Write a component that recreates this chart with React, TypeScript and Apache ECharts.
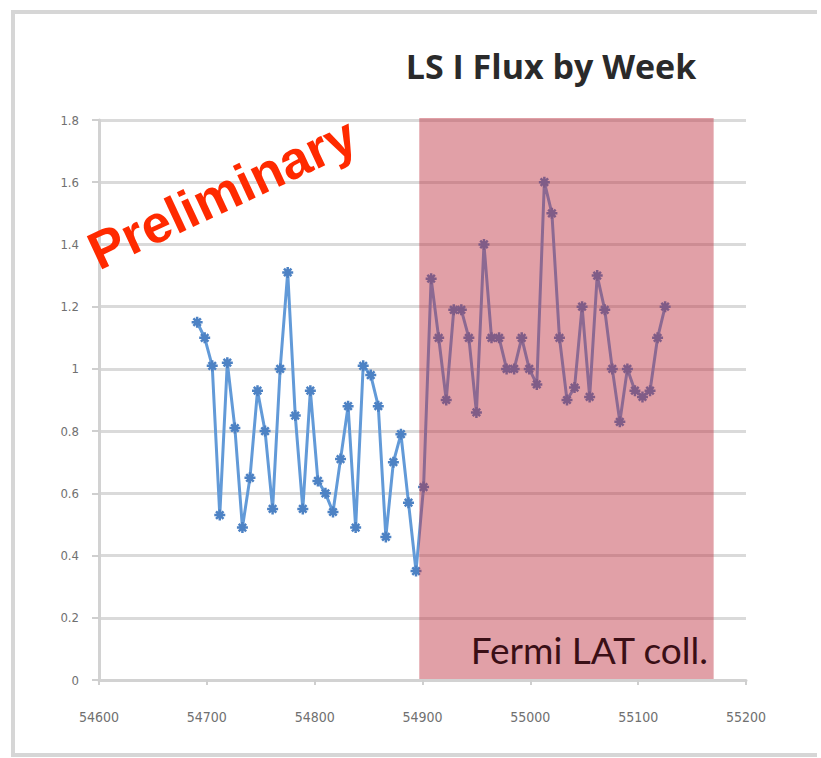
import React, { useEffect, useRef } from "react";
import * as echarts from "echarts";

// Week dates (MJD) and flux values
const mjd = [
  54691, 54698, 54705, 54712, 54719, 54726, 54733, 54740, 54747, 54754,
  54761, 54768, 54775, 54782, 54789, 54796, 54803, 54810, 54817, 54824,
  54831, 54838, 54845, 54852, 54859, 54866, 54873, 54880, 54887, 54894,
  54901, 54908, 54915, 54922, 54929, 54936, 54943, 54950, 54957, 54964,
  54971, 54978, 54985, 54992, 54999, 55006, 55013, 55020, 55027, 55034,
  55041, 55048, 55055, 55062, 55069, 55076, 55083, 55090, 55097, 55104,
  55111, 55118, 55125,
];
const flux = [
  1.15, 1.1, 1.01, 0.53, 1.02, 0.81, 0.49, 0.65, 0.93, 0.8,
  0.55, 1.0, 1.31, 0.85, 0.55, 0.93, 0.64, 0.6, 0.54, 0.71,
  0.88, 0.49, 1.01, 0.98, 0.88, 0.46, 0.7, 0.79, 0.57, 0.35,
  0.62, 1.29, 1.1, 0.9, 1.19, 1.19, 1.1, 0.86, 1.4, 1.1,
  1.1, 1.0, 1.0, 1.1, 1.0, 0.95, 1.6, 1.5, 1.1, 0.9,
  0.94, 1.2, 0.91, 1.3, 1.19, 1.0, 0.83, 1.0, 0.93, 0.91,
  0.93, 1.1, 1.2,
];
// Fermi LAT period shaded band (MJD start, end) and its flux extent
const shadedRange = [54897, 55170];
const yRange = [0, 1.8];
const xRange = [54600, 55200];

const titleText = "LS I Flux by Week";
const watermark = "Preliminary";
const creditText = "Fermi LAT coll.";

const STAR = "path://M0,5L10,5M5,0L5,10M1.6,1.6L8.4,8.4M8.4,1.6L1.6,8.4";

export default function App() {
  const ref = useRef<HTMLDivElement>(null);
  useEffect(() => {
    if (!ref.current) return;
    const chart = echarts.init(ref.current, null, { renderer: "svg" });
    const points = mjd.map((d, i) => [d, flux[i]]);
    const frameStyle = { stroke: "#d6d6d6", lineWidth: 4 };
    chart.setOption({
      animation: false,
      backgroundColor: "#ffffff",
      title: {
        text: titleText,
        left: 546,
        top: 44,
        textAlign: "center",
        textStyle: {
          fontFamily: "Open Sans",
          fontWeight: "bold",
          fontSize: 34,
          color: "#2a2a2a",
        },
      },
      grid: { left: 99, right: 75, top: 120, bottom: 78, containLabel: false },
      xAxis: {
        type: "value",
        min: xRange[0],
        max: xRange[1],
        interval: 100,
        axisLine: { show: true, lineStyle: { color: "#d2d2d2", width: 3 } },
        axisTick: { show: true, length: 5, lineStyle: { color: "#cfcfcf", width: 2 } },
        axisLabel: {
          color: "#707070",
          fontSize: 14,
          fontFamily: "DejaVu Sans Condensed, DejaVu Sans",
          margin: 30,
          formatter: (v: number) => String(v),
        },
        splitLine: { show: false },
      },
      yAxis: {
        type: "value",
        min: yRange[0],
        max: yRange[1],
        interval: 0.2,
        axisLine: { show: true, lineStyle: { color: "#d2d2d2", width: 3 } },
        axisTick: { show: true, length: 7, lineStyle: { color: "#cfcfcf", width: 2 } },
        axisLabel: {
          color: "#707070",
          fontSize: 13,
          fontFamily: "DejaVu Sans Condensed, DejaVu Sans",
          margin: 20,
        },
        splitLine: { show: true, lineStyle: { color: "#dadada", width: 3 } },
      },
      series: [
        {
          type: "line",
          z: 2,
          data: points,
          lineStyle: { color: "#629ad8", width: 3 },
          symbol: STAR,
          symbolSize: 11,
          itemStyle: { color: "#4d82c4", borderColor: "#4d82c4", borderWidth: 2.5 },
        },
        {
          type: "custom",
          z: 6,
          silent: true,
          data: [[shadedRange[0], shadedRange[1], yRange[0], yRange[1]]],
          encode: { x: [0, 1], y: [2, 3] },
          renderItem: (params: any, api: any) => {
            const p0 = api.coord([api.value(0), api.value(3)]);
            const p1 = api.coord([api.value(1), api.value(2)]);
            return {
              type: "rect",
              shape: { x: p0[0], y: p0[1] - 2, width: p1[0] - p0[0], height: p1[1] - p0[1] + 1 },
              style: { fill: "rgba(190,48,64,0.46)" },
            };
          },
        },
      ],
      graphic: [
        { type: "line", z: 0, shape: { x1: 13, y1: 12, x2: 817, y2: 12 }, style: frameStyle },
        { type: "line", z: 0, shape: { x1: 13, y1: 10, x2: 13, y2: 757 }, style: frameStyle },
        { type: "line", z: 0, shape: { x1: 13, y1: 755, x2: 817, y2: 755 }, style: frameStyle },
        {
          type: "text",
          x: 222,
          y: 193,
          rotation: (25 * Math.PI) / 180,
          z: 10,
          style: {
            text: watermark,
            fill: "#ff2a00",
            font: "bold 53px 'Liberation Sans', Arial, sans-serif",
            align: "center",
            verticalAlign: "middle",
          },
        },
        {
          type: "text",
          x: 708,
          y: 668,
          z: 10,
          style: {
            text: creditText,
            fill: "#3a0f16",
            font: "37px Lato, sans-serif",
            align: "right",
            verticalAlign: "bottom",
          },
        },
      ],
    });
    return () => chart.dispose();
  }, []);
  return <div ref={ref} style={{ width: 821, height: 758, position: "absolute", left: 0, top: 0 }} />;
}
